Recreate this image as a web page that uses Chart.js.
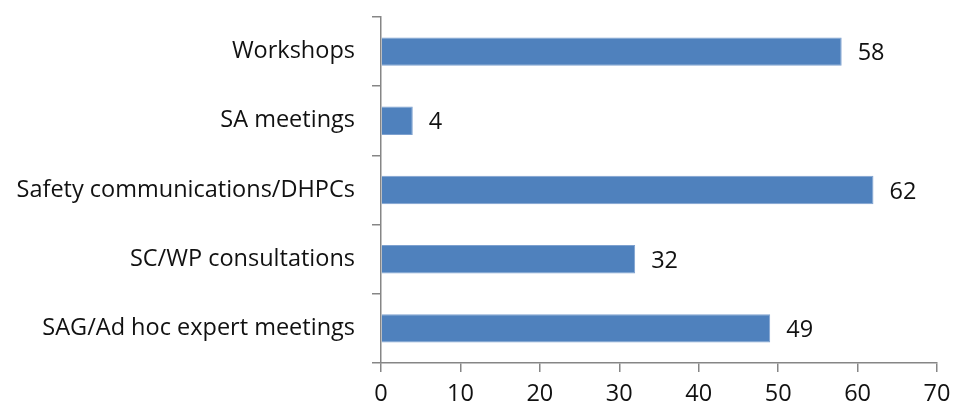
<!DOCTYPE html>
<html>
<head>
<meta charset="utf-8">
<script src="https://cdn.jsdelivr.net/npm/chart.js@4.4.1/dist/chart.umd.min.js"></script>
<style>
  html, body { margin: 0; padding: 0; background: #fff; }
  #wrap { width: 954px; height: 403px; }
</style>
</head>
<body>
<div id="wrap"><canvas id="chart" width="954" height="403"></canvas></div>
<script>
// Datos
const categories = ['Workshops', 'SA meetings', 'Safety communications/DHPCs', 'SC/WP consultations', 'SAG/Ad hoc expert meetings'];
const values = [58, 4, 62, 32, 49];
const xTicks = [0, 10, 20, 30, 40, 50, 60, 70];

const FONT = '"Open Sans", sans-serif';
const FONT_SIZE = 23.5;
const AXIS = '#868686';

// Etiquetas de valor a la derecha de cada barra
const valueLabels = {
  id: 'valueLabels',
  afterDatasetsDraw(chart) {
    const ctx = chart.ctx;
    const meta = chart.getDatasetMeta(0);
    ctx.save();
    ctx.font = FONT_SIZE + 'px ' + FONT;
    ctx.fillStyle = '#111';
    ctx.textAlign = 'left';
    ctx.textBaseline = 'middle';
    meta.data.forEach((bar, i) => {
      ctx.fillText(String(values[i]), bar.x + 16, bar.y + 2);
    });
    ctx.restore();
  }
};

new Chart(document.getElementById('chart'), {
  type: 'bar',
  data: {
    labels: categories,
    datasets: [{
      data: values,
      backgroundColor: '#4F81BD',
      borderColor: '#7ea1cf',
      borderWidth: 1,
      categoryPercentage: 1,
      barPercentage: 0.41
    }]
  },
  options: {
    indexAxis: 'y',
    responsive: false,
    animation: false,
    layout: { padding: { top: 17, right: 17, left: 0, bottom: 0 } },
    plugins: { legend: { display: false }, tooltip: { enabled: false } },
    scales: {
      x: {
        min: 0,
        max: 70,
        afterBuildTicks: axis => { axis.ticks = xTicks.map(v => ({ value: v })); },
        afterFit: axis => { axis.height = 40; axis.paddingLeft = 0; axis.paddingRight = 0; },
        border: { color: AXIS, width: 1.5 },
        grid: { drawOnChartArea: false, drawTicks: true, tickLength: 9, color: AXIS, lineWidth: 1.5 },
        ticks: { color: '#111', font: { family: FONT, size: FONT_SIZE }, padding: 8 }
      },
      y: {
        afterFit: axis => { axis.width = 381; axis.paddingTop = 0; axis.paddingBottom = 0; },
        border: { color: AXIS, width: 1.5 },
        grid: { offset: true, drawOnChartArea: false, drawTicks: true, tickLength: 9, color: AXIS, lineWidth: 1.5 },
        ticks: { color: '#111', font: { family: FONT, size: FONT_SIZE }, padding: 17 }
      }
    }
  },
  plugins: [valueLabels]
});
</script>
</body>
</html>
